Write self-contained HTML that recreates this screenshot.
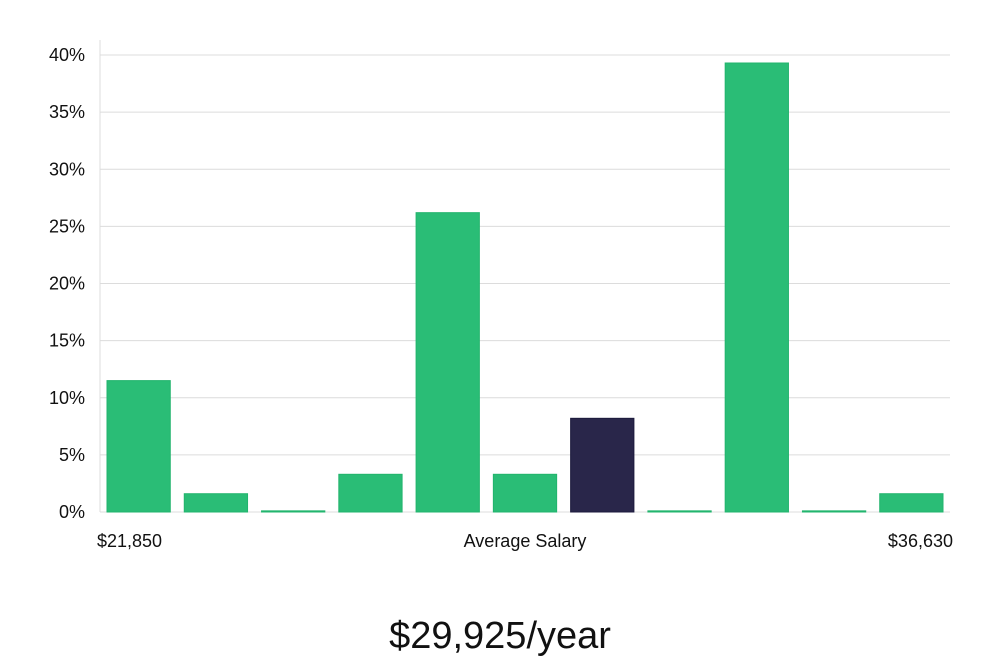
<!DOCTYPE html>
<html><head><meta charset="utf-8">
<style>
html,body{margin:0;padding:0;background:#fff;}
body{width:1000px;height:660px;overflow:hidden;font-family:"Liberation Sans","DejaVu Sans",sans-serif;}
</style></head>
<body>
<svg id="chart" width="1000" height="660" xmlns="http://www.w3.org/2000/svg">
<g id="grid"></g><g id="bars"></g><g id="labels"></g>
</svg>
<script>
const values = [11.5, 1.6, 0.1, 3.3, 26.2, 3.3, 8.2, 0.1, 39.3, 0.1, 1.6];
const highlight = [false,false,false,false,false,false,true,false,false,false,false];
const yTicks = [0,5,10,15,20,25,30,35,40];
const yTickLabels = ["0%","5%","10%","15%","20%","25%","30%","35%","40%"];
const xLabels = ["$21,850","Average Salary","$36,630"];
const title = "$29,925/year";

const NS="http://www.w3.org/2000/svg";
const x0=100,x1=950,yBase=512,yTop=55,yMax=40;
const y=v=>yBase-(v/yMax)*(yBase-yTop);
const slot=(x1-x0)/values.length;
const bx=i=>x0+i*slot+7;
function mk(t,a,p){const e=document.createElementNS(NS,t);for(const k in a)e.setAttribute(k,a[k]);p.appendChild(e);return e;}
const grid=document.getElementById('grid'),bars=document.getElementById('bars'),lab=document.getElementById('labels');
const axis=mk('line',{x1:x0,x2:x0,y1:40,y2:yBase,stroke:'#ddd','stroke-width':1},grid);


yTicks.forEach((t,i)=>{
  const g=mk('line',{x1:x0,x2:x1,y1:y(t),y2:y(t),stroke:'#dcdcdc','stroke-width':1},grid);
  
  
  const tx=mk('text',{x:85,y:y(t)+6,'text-anchor':'end','font-size':18,fill:'#111'},lab);
  tx.textContent=yTickLabels[i];
  
  
});
values.forEach((v,i)=>{
  const h=Math.max(yBase-y(v),1);
  const r=mk('rect',{x:bx(i),y:yBase-h,width:slot-14,height:h,fill:highlight[i]?'#29264a':'#2abd76',stroke:highlight[i]?'#1c1a3c':'#22b46d','stroke-width':1},bars);
  
  
});
const lp=[[97,'start'],[525,'middle'],[953,'end']];
xLabels.forEach((s,i)=>{
  const t=mk('text',{x:lp[i][0],y:547,'text-anchor':lp[i][1],'font-size':18,fill:'#111'},lab);
  t.textContent=s;
  
  
});
const tt=mk('text',{x:500,y:648,'text-anchor':'middle','font-size':38,fill:'#111'},lab);
tt.textContent=title;


</script>
</body></html>
